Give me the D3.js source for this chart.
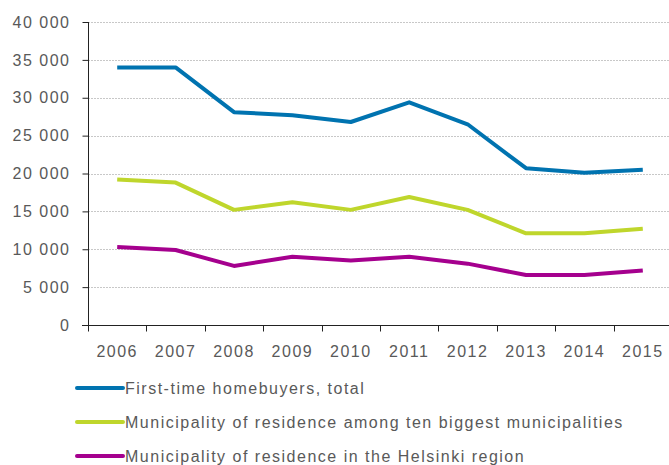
<!DOCTYPE html>
<html>
<head>
<meta charset="utf-8">
<script src="https://cdn.jsdelivr.net/npm/d3@7"></script>
<style>
  html, body { margin: 0; padding: 0; background: #fff; }
  svg { display: block; }
  text { font-family: "Liberation Sans", Arial, sans-serif; fill: #595959; }
</style>
</head>
<body>
<svg id="chart" width="669" height="465"></svg>
<script>
// Years on the x axis
const years = ["2006", "2007", "2008", "2009", "2010", "2011", "2012", "2013", "2014", "2015"];

// First-time homebuyers per year
const totalBuyers   = [34000, 34000, 28100, 27700, 26800, 29400, 26500, 20700, 20100, 20500];
const tenBiggest    = [19200, 18800, 15200, 16200, 15200, 16900, 15200, 12100, 12100, 12700];
const helsinkiRegion = [10300, 9900, 7800, 9000, 8500, 9000, 8100, 6600, 6600, 7200];

// Y axis tick values
const yTicks = [0, 5000, 10000, 15000, 20000, 25000, 30000, 35000, 40000];

const seriesNames = [
  "First-time homebuyers, total",
  "Municipality of residence among ten biggest municipalities",
  "Municipality of residence in the Helsinki region"
];
const seriesColors = ["#0073b0", "#bfd62c", "#a5008e"];
const seriesValues = [totalBuyers, tenBiggest, helsinkiRegion];

const svg = d3.select("#chart");
const margin = { left: 88, top: 22, right: -3, bottom: 140 };
const width = 669 - margin.left - margin.right;
const height = 465 - margin.top - margin.bottom;

const x = d3.scaleBand().domain(years).range([margin.left, margin.left + width]);
const y = d3.scaleLinear().domain([0, 40000]).range([margin.top + height, margin.top]);

const fmt = v => d3.format(",")(v).replace(/,/g, " ");

// Horizontal grid lines
svg.append("g")
  .selectAll("line")
  .data(yTicks.filter(d => d > 0))
  .join("line")
  .attr("x1", margin.left)
  .attr("x2", 669)
  .attr("y1", d => Math.round(y(d)) + 0.5)
  .attr("y2", d => Math.round(y(d)) + 0.5)
  .attr("stroke", "#c8c8c8")
  .attr("stroke-width", 1)
  .attr("stroke-dasharray", "2,1");

// Y axis
const yAxis = svg.append("g")
  .attr("transform", `translate(${margin.left + 0.5},0)`)
  .call(d3.axisLeft(y).tickValues(yTicks).tickFormat(fmt).tickSize(6).tickPadding(12));
yAxis.select(".domain").attr("stroke", "#222").attr("d", `M0,${y(40000)}V${y(0)}`);
yAxis.selectAll(".tick line").attr("stroke", "#222");
yAxis.selectAll("text")
  .attr("font-size", 16)
  .attr("letter-spacing", "1.5px")
  .attr("fill", "#595959")
  .style("font-family", "'Liberation Sans', Arial, sans-serif");

// X axis with ticks on band boundaries
const xAxisG = svg.append("g")
  .attr("transform", `translate(0,${Math.round(y(0)) + 0.5})`);
xAxisG.append("line")
  .attr("x1", margin.left - 6).attr("x2", 669)
  .attr("stroke", "#222");
xAxisG.selectAll(".btick")
  .data(years)
  .join("line")
  .attr("x1", d => Math.round(x(d)) + 0.5)
  .attr("x2", d => Math.round(x(d)) + 0.5)
  .attr("y1", 0).attr("y2", 6)
  .attr("stroke", "#222");
xAxisG.selectAll(".ylab")
  .data(years)
  .join("text")
  .attr("x", d => x(d) + x.bandwidth() / 2)
  .attr("y", 31)
  .attr("text-anchor", "middle")
  .attr("font-size", 16)
  .attr("letter-spacing", "1.5px")
  .text(d => d);

// Series lines
const line = d3.line()
  .x((d, i) => x(years[i]) + x.bandwidth() / 2)
  .y(d => y(d));

svg.append("g")
  .selectAll("path")
  .data(seriesValues)
  .join("path")
  .attr("d", d => line(d))
  .attr("fill", "none")
  .attr("stroke", (d, i) => seriesColors[i])
  .attr("stroke-width", 4)
  .attr("stroke-linejoin", "round");

// Legend
const legend = svg.append("g");
const legendY = [388, 422, 456];
seriesNames.forEach((name, i) => {
  legend.append("line")
    .attr("x1", 77).attr("x2", 123)
    .attr("y1", legendY[i]).attr("y2", legendY[i])
    .attr("stroke", seriesColors[i])
    .attr("stroke-width", 4)
    .attr("stroke-linecap", "round");
  legend.append("text")
    .attr("x", 125)
    .attr("y", legendY[i])
    .attr("dy", "0.35em")
    .attr("font-size", 16)
    .attr("letter-spacing", "1.5px")
    .text(name);
});
</script>
</body>
</html>
